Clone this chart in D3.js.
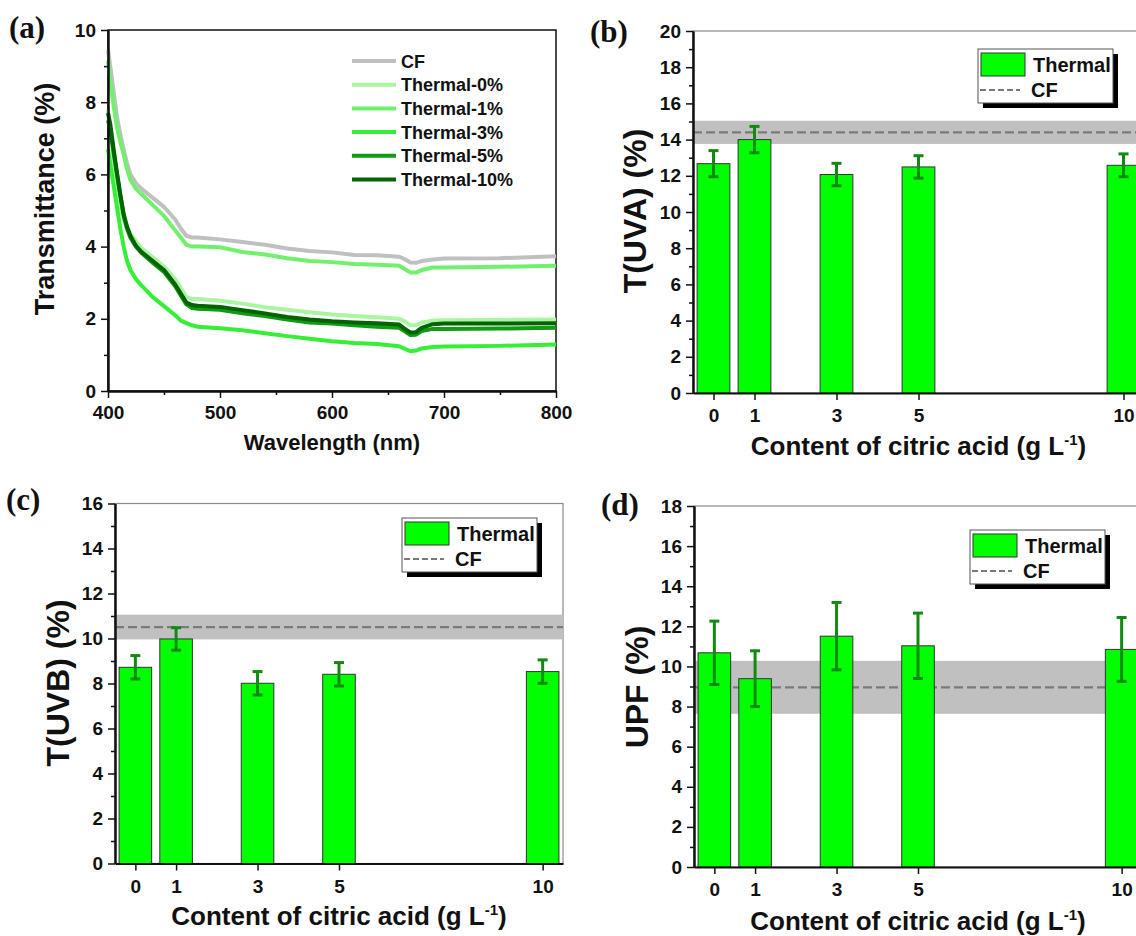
<!DOCTYPE html>
<html>
<head>
<meta charset="utf-8">
<script src="https://cdn.jsdelivr.net/npm/d3@7"></script>
<style>
  body { margin: 0; background: #fff; }
  svg { display: block; }
</style>
</head>
<body>
<script>
// ---- panel (a): transmittance spectra ----
var wl = [400, 402, 405, 408, 411, 414, 417, 420, 425, 430, 440, 450, 460, 465, 470, 475, 480,
          500, 520, 540, 560, 580, 600, 620, 640, 660, 665, 670, 675, 680, 690, 700, 750, 800];
var tCF   = [9.45, 9.0, 8.3, 7.6, 7.1, 6.7, 6.3, 6.0, 5.75, 5.6, 5.35, 5.1, 4.75, 4.5, 4.3, 4.25, 4.25,
             4.2, 4.13, 4.05, 3.95, 3.88, 3.84, 3.77, 3.76, 3.72, 3.65, 3.56, 3.55, 3.6, 3.64, 3.67, 3.68, 3.73];
var tTh0  = [7.8, 7.2, 6.4, 5.7, 5.1, 4.75, 4.5, 4.35, 4.15, 3.95, 3.7, 3.45, 3.1, 2.85, 2.6, 2.55, 2.55,
             2.5, 2.42, 2.32, 2.25, 2.18, 2.12, 2.08, 2.04, 2.0, 1.93, 1.82, 1.82, 1.9, 1.95, 1.96, 1.97, 1.98];
var tTh1  = [9.15, 8.6, 7.9, 7.3, 6.9, 6.55, 6.15, 5.85, 5.6, 5.45, 5.15, 4.85, 4.45, 4.25, 4.05, 4.0, 4.0,
             3.98, 3.85, 3.78, 3.68, 3.6, 3.57, 3.52, 3.5, 3.47, 3.38, 3.28, 3.28, 3.35, 3.42, 3.42, 3.44, 3.47];
var tTh3  = [6.7, 6.3, 5.7, 5.1, 4.5, 4.0, 3.6, 3.35, 3.1, 2.92, 2.6, 2.35, 2.1, 1.95, 1.88, 1.82, 1.78,
             1.74, 1.68, 1.6, 1.52, 1.45, 1.38, 1.33, 1.3, 1.24, 1.17, 1.1, 1.12, 1.18, 1.22, 1.23, 1.25, 1.29];
var tTh5  = [7.5, 7.25, 6.6, 6.0, 5.4, 4.85, 4.5, 4.25, 4.0, 3.82, 3.55, 3.3, 2.9, 2.65, 2.4, 2.3, 2.28,
             2.25, 2.15, 2.08, 1.98, 1.9, 1.87, 1.82, 1.78, 1.75, 1.65, 1.55, 1.56, 1.66, 1.72, 1.72, 1.73, 1.75];
var tTh10 = [7.7, 7.4, 6.7, 6.05, 5.45, 4.9, 4.55, 4.3, 4.02, 3.85, 3.6, 3.35, 2.95, 2.7, 2.45, 2.38, 2.36,
             2.33, 2.24, 2.15, 2.05, 1.98, 1.93, 1.9, 1.88, 1.84, 1.72, 1.62, 1.63, 1.75, 1.85, 1.87, 1.87, 1.88];
var seriesNames = ["CF", "Thermal-0%", "Thermal-1%", "Thermal-3%", "Thermal-5%", "Thermal-10%"];
var seriesColors = ["#c0c0c0", "#aaf5a2", "#70f06c", "#35ef35", "#129a12", "#006400"];
var aXTicks = [400, 500, 600, 700, 800];
var aYTicks = [0, 2, 4, 6, 8, 10];

// ---- panels (b)-(d): bars vs citric acid content ----
var contents = [0, 1, 3, 5, 10];
var uvaVals = [12.67, 14.0, 12.07, 12.49, 12.58];
var uvaErr  = [0.72, 0.73, 0.62, 0.62, 0.63];
var uvaCF = [14.4, 0.64];   // mean, sd
var uvbVals = [8.72, 9.98, 8.01, 8.41, 8.53];
var uvbErr  = [0.52, 0.5, 0.52, 0.52, 0.52];
var uvbCF = [10.51, 0.55];
var upfVals = [10.68, 9.39, 11.51, 11.03, 10.85];
var upfErr  = [1.58, 1.39, 1.68, 1.63, 1.59];
var upfCF = [8.96, 1.32];

var SANS = "'Liberation Sans', Arial, sans-serif";
var SERIF = "'Liberation Serif', 'Times New Roman', serif";

var svg = d3.select("body").append("svg")
  .attr("width", 1136).attr("height", 936)
  .style("font-family", SANS);

function styleAxis(g) {
  g.select(".domain").attr("stroke", "#111").attr("stroke-width", 2);
  g.selectAll(".tick line").attr("stroke", "#111").attr("stroke-width", 1.5);
  g.selectAll(".tick text").attr("fill", "#111")
    .style("font-family", SANS).style("font-size", "19px").style("font-weight", "bold");
}

function leftAxis(y, x0, majors, minorMax) {
  var minor = d3.range(1, minorMax, 2);
  svg.append("g").attr("transform", "translate(" + x0 + ",0)")
    .call(d3.axisLeft(y).tickValues(minor).tickSize(4).tickFormat("").tickSizeOuter(0))
    .call(styleAxis);
  svg.append("g").attr("transform", "translate(" + x0 + ",0)")
    .call(d3.axisLeft(y).tickValues(majors).tickSize(7).tickPadding(5).tickSizeOuter(0))
    .call(styleAxis);
}

function yTitle(txt, x, y, size) {
  svg.append("text").attr("transform", "translate(" + x + "," + y + ") rotate(-90)")
    .attr("text-anchor", "middle").style("font-size", size + "px").style("font-weight", "bold")
    .attr("fill", "#111").text(txt);
}

function panelLabel(txt, x, y) {
  svg.append("text").attr("x", x).attr("y", y).style("font-family", SERIF)
    .style("font-size", "31px").style("font-weight", "bold").attr("fill", "#111").text(txt);
}

function contentTitle(cx, y) {
  var t = svg.append("text").attr("x", cx).attr("y", y).attr("text-anchor", "middle")
    .style("font-size", "26px").style("font-weight", "bold").attr("fill", "#111");
  t.append("tspan").text("Content of citric acid (g L");
  t.append("tspan").attr("dy", -10).style("font-size", "15px").text("-1");
  t.append("tspan").attr("dy", 10).text(")");
}

// ================= panel (a) =================
var xa = d3.scaleLinear().domain([400, 800]).range([108, 556]);
var ya = d3.scaleLinear().domain([0, 10]).range([391, 30]);

svg.append("rect").attr("x", 108).attr("y", 30).attr("width", 448).attr("height", 361)
  .attr("fill", "none").attr("stroke", "#111").attr("stroke-width", 1.5);

var lineA = d3.line().x(function(d, i) { return xa(wl[i]); }).y(function(d) { return ya(d); });
[tCF, tTh0, tTh1, tTh3, tTh5, tTh10].forEach(function(s, k) {
  svg.append("path").datum(s).attr("d", lineA).attr("fill", "none")
    .attr("stroke", seriesColors[k]).attr("stroke-width", 4).attr("stroke-linejoin", "round");
});

svg.append("g").attr("transform", "translate(0,391)")
  .call(d3.axisBottom(xa).tickValues([450, 550, 650, 750]).tickSize(4).tickFormat("").tickSizeOuter(0))
  .call(styleAxis);
svg.append("g").attr("transform", "translate(0,391)")
  .call(d3.axisBottom(xa).tickValues(aXTicks).tickSize(7).tickPadding(8).tickSizeOuter(0))
  .call(styleAxis);
leftAxis(ya, 108, aYTicks, 10);

seriesNames.forEach(function(n, k) {
  var yy = 61 + k * 23.7;
  svg.append("line").attr("x1", 352).attr("x2", 396).attr("y1", yy).attr("y2", yy)
    .attr("stroke", seriesColors[k]).attr("stroke-width", 4);
  svg.append("text").attr("x", 401).attr("y", yy + 6.5).style("font-size", "18px")
    .style("font-weight", "bold").attr("fill", "#111").text(n);
});

yTitle("Transmittance (%)", 54, 199, 27);
svg.append("text").attr("x", 332).attr("y", 450).attr("text-anchor", "middle")
  .style("font-size", "22px").style("font-weight", "bold").attr("fill", "#111").text("Wavelength (nm)");
panelLabel("(a)", 9, 38);

// ================= bar panels =================
function barPanel(p) {
  var x = d3.scaleLinear().domain([-0.5, 10.5]).range([p.x0, p.x1]);
  var y = d3.scaleLinear().domain([0, p.ymax]).range([p.y0, p.y1]);
  var bw = x(0.8) - x(0);

  svg.append("rect").attr("x", p.x0).attr("y", p.y1).attr("width", p.x1 - p.x0).attr("height", p.y0 - p.y1)
    .attr("fill", "none").attr("stroke", "#8a8a8a").attr("stroke-width", 1.2);

  // CF band + dashed mean
  svg.append("rect").attr("x", p.x0).attr("width", p.x1 - p.x0)
    .attr("y", y(p.cf[0] + p.cf[1])).attr("height", y(p.cf[0] - p.cf[1]) - y(p.cf[0] + p.cf[1]))
    .attr("fill", "#c0c0c0");
  svg.append("line").attr("x1", p.x0).attr("x2", p.x1).attr("y1", y(p.cf[0])).attr("y2", y(p.cf[0]))
    .attr("stroke", "#7a7a7a").attr("stroke-width", 2.2).attr("stroke-dasharray", "9,4");

  svg.selectAll(null).data(p.vals).enter().append("rect")
    .attr("x", function(d, i) { return x(contents[i]) - bw / 2; })
    .attr("y", function(d) { return y(d); })
    .attr("width", bw)
    .attr("height", function(d) { return p.y0 - y(d); })
    .attr("fill", "#00ff00").attr("stroke", "#333").attr("stroke-width", 1);

  var eg = svg.append("g").attr("stroke", "#128a12");
  p.vals.forEach(function(v, i) {
    var cx = x(contents[i]), hi = y(v + p.err[i]), lo = y(v - p.err[i]);
    eg.append("line").attr("x1", cx).attr("x2", cx).attr("y1", hi).attr("y2", lo).attr("stroke-width", 3);
    eg.append("line").attr("x1", cx - 5).attr("x2", cx + 5).attr("y1", hi).attr("y2", hi).attr("stroke-width", 3);
    eg.append("line").attr("x1", cx - 5).attr("x2", cx + 5).attr("y1", lo).attr("y2", lo).attr("stroke-width", 3);
  });

  svg.append("g").attr("transform", "translate(0," + p.y0 + ")")
    .call(d3.axisBottom(x).tickValues(contents).tickSize(7).tickPadding(9).tickSizeOuter(0))
    .call(styleAxis);
  leftAxis(y, p.x0, d3.range(0, p.ymax + 1, 2), p.ymax);

  // legend
  var lg = svg.append("g").attr("transform", "translate(" + p.lx + "," + p.ly + ")");
  lg.append("rect").attr("x", 5).attr("y", 5).attr("width", 135).attr("height", 54).attr("fill", "#000");
  lg.append("rect").attr("x", 0).attr("y", 0).attr("width", 135).attr("height", 54)
    .attr("fill", "#fff").attr("stroke", "#555").attr("stroke-width", 1);
  lg.append("rect").attr("x", 3).attr("y", 4).attr("width", 44).attr("height", 23)
    .attr("fill", "#00ff00").attr("stroke", "#333").attr("stroke-width", 1);
  lg.append("text").attr("x", 55).attr("y", 23).style("font-size", "20px").style("font-weight", "bold")
    .attr("fill", "#111").text("Thermal");
  lg.append("line").attr("x1", 2).attr("x2", 42).attr("y1", 41).attr("y2", 41)
    .attr("stroke", "#7a7a7a").attr("stroke-width", 2.2).attr("stroke-dasharray", "6,3");
  lg.append("text").attr("x", 53).attr("y", 48).style("font-size", "20px").style("font-weight", "bold")
    .attr("fill", "#111").text("CF");

  yTitle(p.ytitle, p.tx, p.ty, 32);
  contentTitle((p.x0 + p.x1) / 2, p.by);
  panelLabel(p.label, p.labx, p.laby);
}

barPanel({ x0: 693, x1: 1144, y0: 393, y1: 31, ymax: 20, vals: uvaVals, err: uvaErr, cf: uvaCF,
  lx: 978, ly: 49, ytitle: "T(UVA) (%)", tx: 646, ty: 211, by: 455, label: "(b)", labx: 590, laby: 42 });
barPanel({ x0: 115, x1: 563, y0: 863.5, y1: 503.5, ymax: 16, vals: uvbVals, err: uvbErr, cf: uvbCF,
  lx: 402, ly: 518, ytitle: "T(UVB) (%)", tx: 69, ty: 683, by: 925, label: "(c)", labx: 6, laby: 510 });
barPanel({ x0: 694, x1: 1142, y0: 867, y1: 506, ymax: 18, vals: upfVals, err: upfErr, cf: upfCF,
  lx: 970, ly: 530, ytitle: "UPF (%)", tx: 648, ty: 687, by: 930, label: "(d)", labx: 601, laby: 515 });
</script>
</body>
</html>
